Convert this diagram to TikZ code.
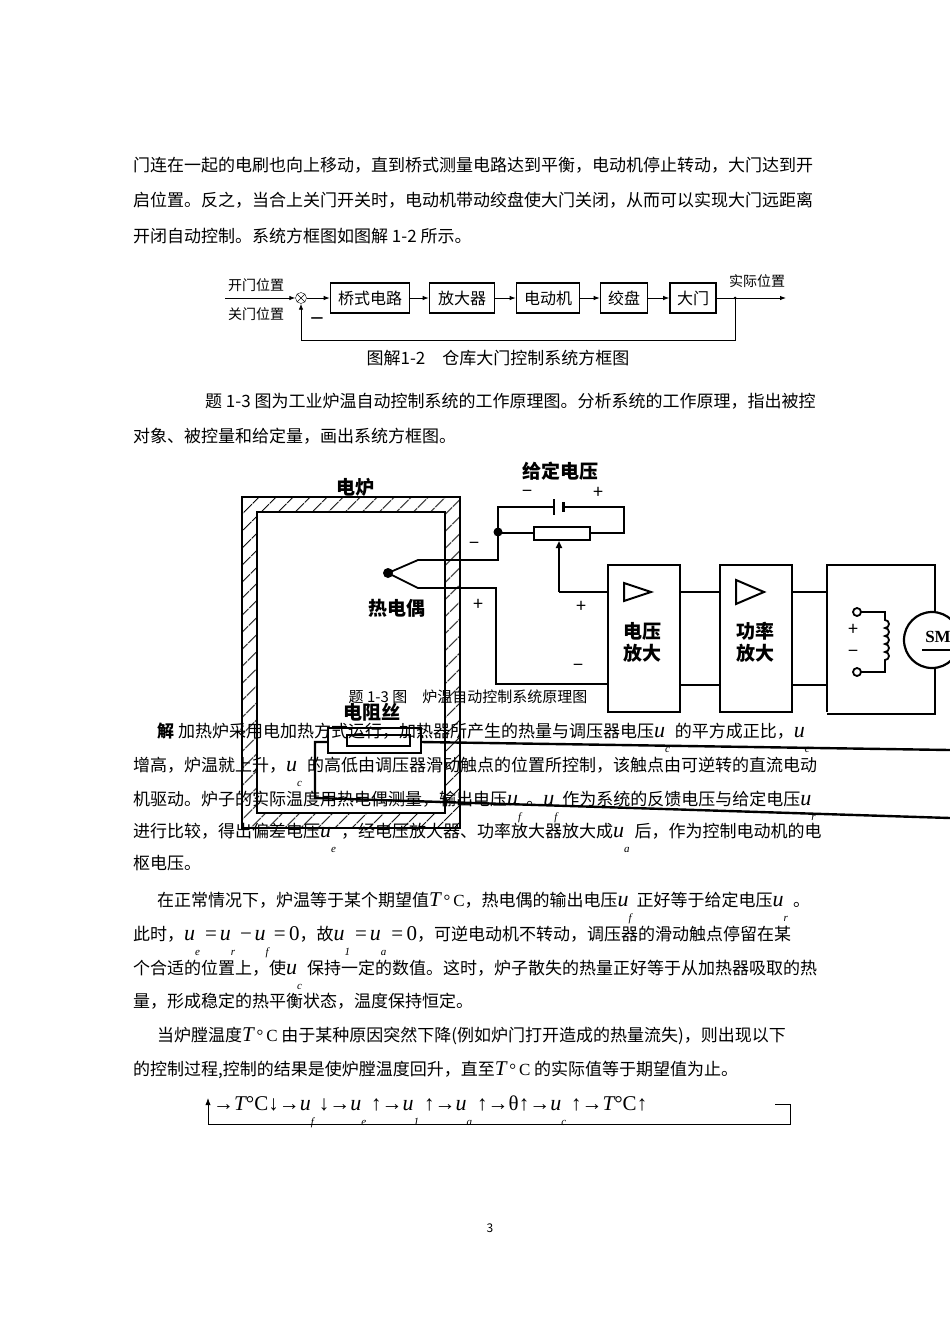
\documentclass[tikz,border=0pt]{standalone}
\usepackage{fontspec}
\setmainfont{Noto Sans CJK SC}
\newfontfamily\ser{Liberation Serif}
\usetikzlibrary{arrows.meta,patterns.meta}
\newcommand{\sbx}[2]{{\fontsize{22}{22}\selectfont\ser\itshape #1}\raisebox{-15pt}{\fontsize{11}{11}\selectfont\ser\itshape #2}\hspace{5pt}}
\newcommand{\sbu}[1]{\sbx{u}{#1}}
\newcommand{\ssr}[1]{{\fontsize{21}{21}\selectfont\ser #1}}
\newcommand{\TC}{{\fontsize{21}{21}\selectfont\ser\itshape T}{\ser\,°\,C}}
\begin{document}
\begin{tikzpicture}[x=1pt,y=-1pt,
  txt/.style={anchor=base west,inner sep=0pt,font=\fontsize{17}{20}\selectfont},
  blk/.style={draw,line width=1.6pt,minimum height=30pt,inner sep=3pt,font=\fontsize{16}{18}\selectfont},
  cw/.style={line width=1.8pt},
  amp/.style={draw,line width=2pt},
  lab/.style={font=\fontsize{19}{22}\selectfont\bfseries,inner sep=0pt}]
\useasboundingbox (0,0) rectangle (950,1318);
\fill[white] (0,0) rectangle (950,1318);
% top paragraph
\node[txt] (t1) at (133,171) {门连在一起的电刷也向上移动，直到桥式测量电路达到平衡，电动机停止转动，大门达到开};
\node[txt] (t2) at (133,206) {启位置。反之，当合上关门开关时，电动机带动绞盘使大门关闭，从而可以实现大门远距离};
\node[txt] (t3) at (133,242) {开闭自动控制。系统方框图如图解 1-2 所示。};
% block diagram 1-2
\node[font=\fontsize{14}{16}\selectfont,inner sep=0pt] (open) at (256,285) {开门位置};
\node[font=\fontsize{14}{16}\selectfont,inner sep=0pt] (close) at (256,314) {关门位置};
\node[draw,circle,minimum size=11pt,inner sep=0pt] (sum) at (301,298) {};
\draw (sum.north west)--(sum.south east) (sum.north east)--(sum.south west);
\node[blk,minimum width=79pt] (b1) at (370,298) {桥式电路};
\node[blk,minimum width=65pt] (b2) at (462,298) {放大器};
\node[blk,minimum width=63pt] (b3) at (548,298) {电动机};
\node[blk,minimum width=47pt] (b4) at (624,298) {绞盘};
\node[blk,minimum width=46pt] (b5) at (693,298) {大门};
\coordinate (in) at (225,298);
\coordinate (out) at (786,298);
\coordinate (br) at (735,298);
\node[font=\fontsize{14}{16}\selectfont,inner sep=0pt] (act) at (757,281) {实际位置};
\begin{scope}[-{Latex[length=6pt]},line width=0.9pt]
\draw (in) -- (sum);
\draw (sum) -- (b1); \draw (b1) -- (b2); \draw (b2) -- (b3); \draw (b3) -- (b4); \draw (b4) -- (b5);
\draw (b5) -- (out);
\draw (br) -- (735,340) -- (301,340) -- (sum);
\end{scope}
\fill (br) circle (1.5pt);
\node[font=\bfseries\fontsize{14}{14}\selectfont] (neg) at (317,320) {—};
\node[font=\fontsize{17}{20}\selectfont,inner sep=0pt] (cap1) at (498,358) {图解1-2\quad 仓库大门控制系统方框图};
% problem text
\node[txt] (p1) at (205,407) {题 1-3 图为工业炉温自动控制系统的工作原理图。分析系统的工作原理，指出被控};
\node[txt] (p2) at (133,442) {对象、被控量和给定量，画出系统方框图。};
% lower text
\node[txt] (l1) at (157,737) {\textbf{解} 加热炉采用电加热方式运行，加热器所产生的热量与调压器电压\sbu{c}的平方成正比，\sbu{c}};
\node[txt] (l2) at (133,771) {增高，炉温就上升，\sbu{c}的高低由调压器滑动触点的位置所控制，该触点由可逆转的直流电动};
\node[txt] (l3) at (133,805) {机驱动。炉子的实际温度用热电偶测量，输出电压\sbu{f}。\sbu{f}作为系统的反馈电压与给定电压\sbu{r}};
\node[txt] (l4) at (133,837) {进行比较，得出偏差电压\sbu{e}，经电压放大器、功率放大器放大成\sbu{a}后，作为控制电动机的电};
\node[txt] (l5) at (133,869) {枢电压。};
\node[txt] (m1) at (157,906) {在正常情况下，炉温等于某个期望值\TC，热电偶的输出电压\sbu{f}正好等于给定电压\sbu{r}。};
\node[txt] (m2) at (133,940) {此时，\sbu{e}\ssr{=}\,\sbu{r}\ssr{−}\,\sbu{f}\ssr{=\,0}，故\sbu{1}\ssr{=}\,\sbu{a}\ssr{=\,0}，可逆电动机不转动，调压器的滑动触点停留在某};
\node[txt] (m3) at (133,974) {个合适的位置上，使\sbu{c}保持一定的数值。这时，炉子散失的热量正好等于从加热器吸取的热};
\node[txt] (m4) at (133,1007) {量，形成稳定的热平衡状态，温度保持恒定。};
\node[txt] (n1) at (157,1041) {当炉膛温度\TC\ 由于某种原因突然下降(例如炉门打开造成的热量流失)，则出现以下};
\node[txt] (n2) at (133,1075) {的控制过程,控制的结果是使炉膛温度回升，直至\TC\ 的实际值等于期望值为止。};
\node[txt,font=\fontsize{21}{22}\selectfont\ser] (ch) at (213,1110) {→{\itshape T}°C↓→\sbx{u}{f}↓→\sbx{u}{e}↑→\sbx{u}{1}↑→\sbx{u}{a}↑→θ↑→\sbx{u}{c}↑→{\itshape T}°C↑};
\coordinate (cr) at (790,1104);
\draw[line width=0.8pt,-{Latex[length=7pt]}] (775,1104) -- (cr) -- (790,1124) -- (208,1124) -- (208,1098);
\node[font=\fontsize{12}{14}\selectfont] (pg) at (490,1228) {3};
% ================= circuit =================
\node[lab] (lf) at (355,487) {电炉};
\fill[pattern={Lines[angle=45,distance=13pt,line width=1.1pt]},even odd rule] (242,497) rectangle (460,828) (257,512) rectangle (445,813);
\draw[line width=2.4pt] (242,497) rectangle (460,828);
\draw[line width=2.4pt] (257,512) rectangle (445,813);
% heater
\node[lab] (lh) at (372,712) {电阻丝};
\draw[line width=2.4pt] (328,728) rectangle (421,753);
\draw[line width=2.4pt] (347,735) rectangle (410,746);
\draw[line width=2.4pt] (421,742) -- (950,750);
\draw[line width=2.4pt] (328,742) -- (315,742) -- (315,798) -- (950,818);
% thermocouple
\coordinate (tj) at (388,573);
\fill (tj) circle (5pt);
\node[lab] (ltc) at (397,608) {热电偶};
\draw[cw] (tj) -- (418,560) -- (498,560) -- (498,532);
\draw[cw] (tj) -- (418,588) -- (496,588) -- (496,684) -- (608,684);
% battery + pot
\node[lab] (lg) at (560,471) {给定电压};
\node[font=\fontsize{18}{18}\selectfont] (bm) at (527,494) {−};
\node[font=\fontsize{18}{18}\selectfont] (bp) at (598,493) {+};
\draw[cw] (498,532) -- (498,507) -- (554,507);
\draw[line width=1.2pt] (554,499) -- (554,515);
\draw[line width=3pt] (563,502) -- (563,512);
\draw[cw] (563,507) -- (624,507) -- (624,533) -- (590,533);
\draw[cw] (534,527) rectangle (590,540);
\draw[cw] (498,533) -- (534,533);
\fill (498,532) circle (4.5pt);
\draw[cw,-{Triangle[length=7pt,width=6pt]}] (559,592) -- (559,541);
\draw[cw] (559,592) -- (608,592);
\node[font=\fontsize{18}{18}\selectfont] (s1) at (474,546) {−};
\node[font=\fontsize{18}{18}\selectfont] (s2) at (478,605) {+};
\node[font=\fontsize{18}{18}\selectfont] (s3) at (581,607) {+};
\node[font=\fontsize{18}{18}\selectfont] (s4) at (578,668) {−};
% amplifiers
\draw[amp] (608,565) rectangle (680,712);
\draw[amp] (720,565) rectangle (792,712);
\draw[amp] (624,583) -- (651,592) -- (624,601) -- cycle;
\draw[amp] (736,580) -- (764,592) -- (736,604) -- cycle;
\node[lab,align=center] (a1) at (642,642) {电压\\放大};
\node[lab,align=center] (a2) at (755,642) {功率\\放大};
\draw[cw] (680,592) -- (720,592) (680,685) -- (720,685);
\draw[cw] (792,592) -- (827,592) (792,685) -- (827,685);
\draw[amp] (827,712) -- (827,565) -- (935,565) -- (935,613);
\draw[amp] (935,667) -- (935,714) -- (827,714);
% motor
\draw[line width=2.2pt] (932,640) circle (28pt);
\node[font=\fontsize{17}{17}\selectfont\bfseries\ser] (sm) at (938,637) {SM};
\draw[line width=1.3pt] (922,650) -- (950,650);
\draw[line width=1.8pt] (857,612) circle (4pt) (857,672) circle (4pt);
\draw[cw] (861,612) -- (885,612) -- (885,620)
  arc(90:-90:4pt) arc(90:-90:4pt) arc(90:-90:4pt) arc(90:-90:4pt) arc(90:-90:4pt)
  -- (885,672) -- (861,672);
\node[font=\fontsize{18}{18}\selectfont] (mp) at (853,630) {+};
\node[font=\fontsize{18}{18}\selectfont] (mm) at (853,654) {−};
\node[font=\fontsize{15}{17}\selectfont,inner sep=0pt] (cap2) at (468,697) {题 1-3 图\quad 炉温自动控制系统原理图};
\end{tikzpicture}
\end{document}
